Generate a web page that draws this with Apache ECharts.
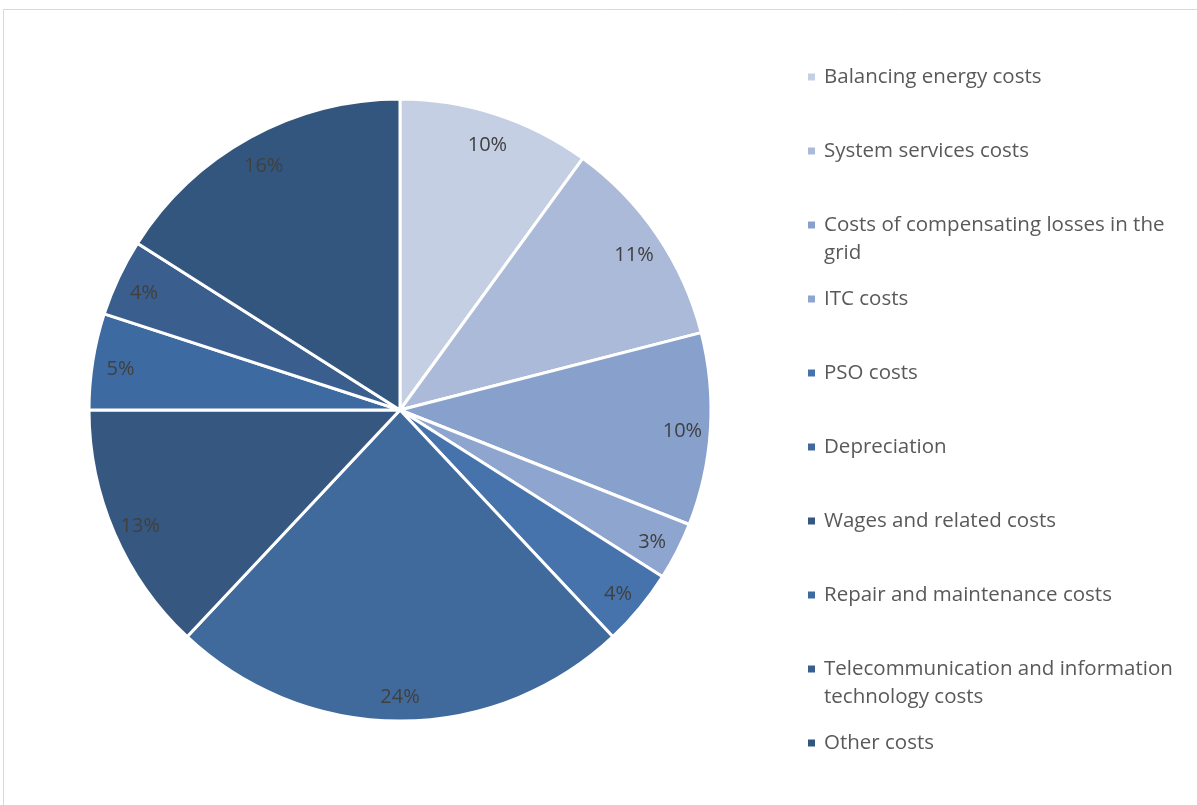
<!DOCTYPE html>
<html>
<head>
<meta charset="utf-8">
<script src="https://cdn.jsdelivr.net/npm/echarts@6/dist/echarts.min.js"></script>
<style>
html,body{margin:0;padding:0;background:#fff;}
#chart{width:1197px;height:805px;}
</style>
</head>
<body>
<div id="chart"></div>
<script>
const categories = [
  'Balancing energy costs',
  'System services costs',
  'Costs of compensating losses in the grid',
  'ITC costs',
  'PSO costs',
  'Depreciation',
  'Wages and related costs',
  'Repair and maintenance costs',
  'Telecommunication and information technology costs',
  'Other costs'
];
const shares = [10, 11, 10, 3, 4, 24, 13, 5, 4, 16];
const colors = ['#c5cfe3', '#abbad8', '#87a1cc', '#8ea5cf', '#4673ac', '#416a9c', '#36577f', '#3d6aa0', '#3a5e8e', '#33567f'];

const FONT = '"Open Sans", sans-serif';
const data = categories.map((n, i) => ({ name: n, value: shares[i], itemStyle: { color: colors[i] } }));
const labelData = categories.map((n, i) => ({ name: n, value: shares[i] }));

// legend layout: first-line centres, 74px apart
const legendLine = 28;
const legendTextWidth = 370;
function isTwoLine(name) {
  return name.length > 32;
}
const legends = categories.map((n, i) => {
  const cy = 77 + i * 74;
  const two = isTwoLine(n);
  return {
    orient: 'vertical',
    left: 806,
    top: cy - (two ? legendLine * 1.5 : legendLine / 2),
    padding: 0,
    itemWidth: 9,
    itemHeight: 9,
    icon: 'rect',
    selectedMode: false,
    data: [n],
    formatter: two ? (name => '\n' + name) : undefined,
    textStyle: {
      fontFamily: FONT,
      fontSize: 20.5,
      color: '#595959',
      lineHeight: legendLine,
      width: legendTextWidth,
      overflow: 'break',
      padding: [0, 0, 0, 3]
    }
  };
});

const chart = echarts.init(document.getElementById('chart'));
chart.setOption({
  animation: false,
  backgroundColor: '#fff',
  graphic: [{
    type: 'rect',
    shape: { x: 3.5, y: 9.5, width: 3000, height: 3000 },
    style: { fill: 'none', stroke: '#d9d9d9', lineWidth: 1 },
    silent: true,
    z: -10
  }],
  legend: legends,
  series: [
    {
      type: 'pie',
      center: [400, 410],
      radius: [0, 311],
      startAngle: 90,
      clockwise: true,
      data: data,
      label: { show: false },
      labelLine: { show: false },
      itemStyle: { borderColor: '#ffffff', borderWidth: 3 },
      emphasis: { disabled: true },
      silent: true
    },
    {
      type: 'pie',
      center: [400, 410],
      radius: [249, 311],
      startAngle: 90,
      clockwise: true,
      data: labelData,
      itemStyle: { color: 'rgba(0,0,0,0)', borderWidth: 0 },
      label: {
        show: true,
        position: 'inside',
        formatter: '{c}%',
        fontFamily: FONT,
        fontSize: 20,
        color: '#404040',
        offset: [0, 4]
      },
      labelLine: { show: false },
      emphasis: { disabled: true },
      silent: true,
      z: 5
    }
  ]
});
</script>
</body>
</html>
